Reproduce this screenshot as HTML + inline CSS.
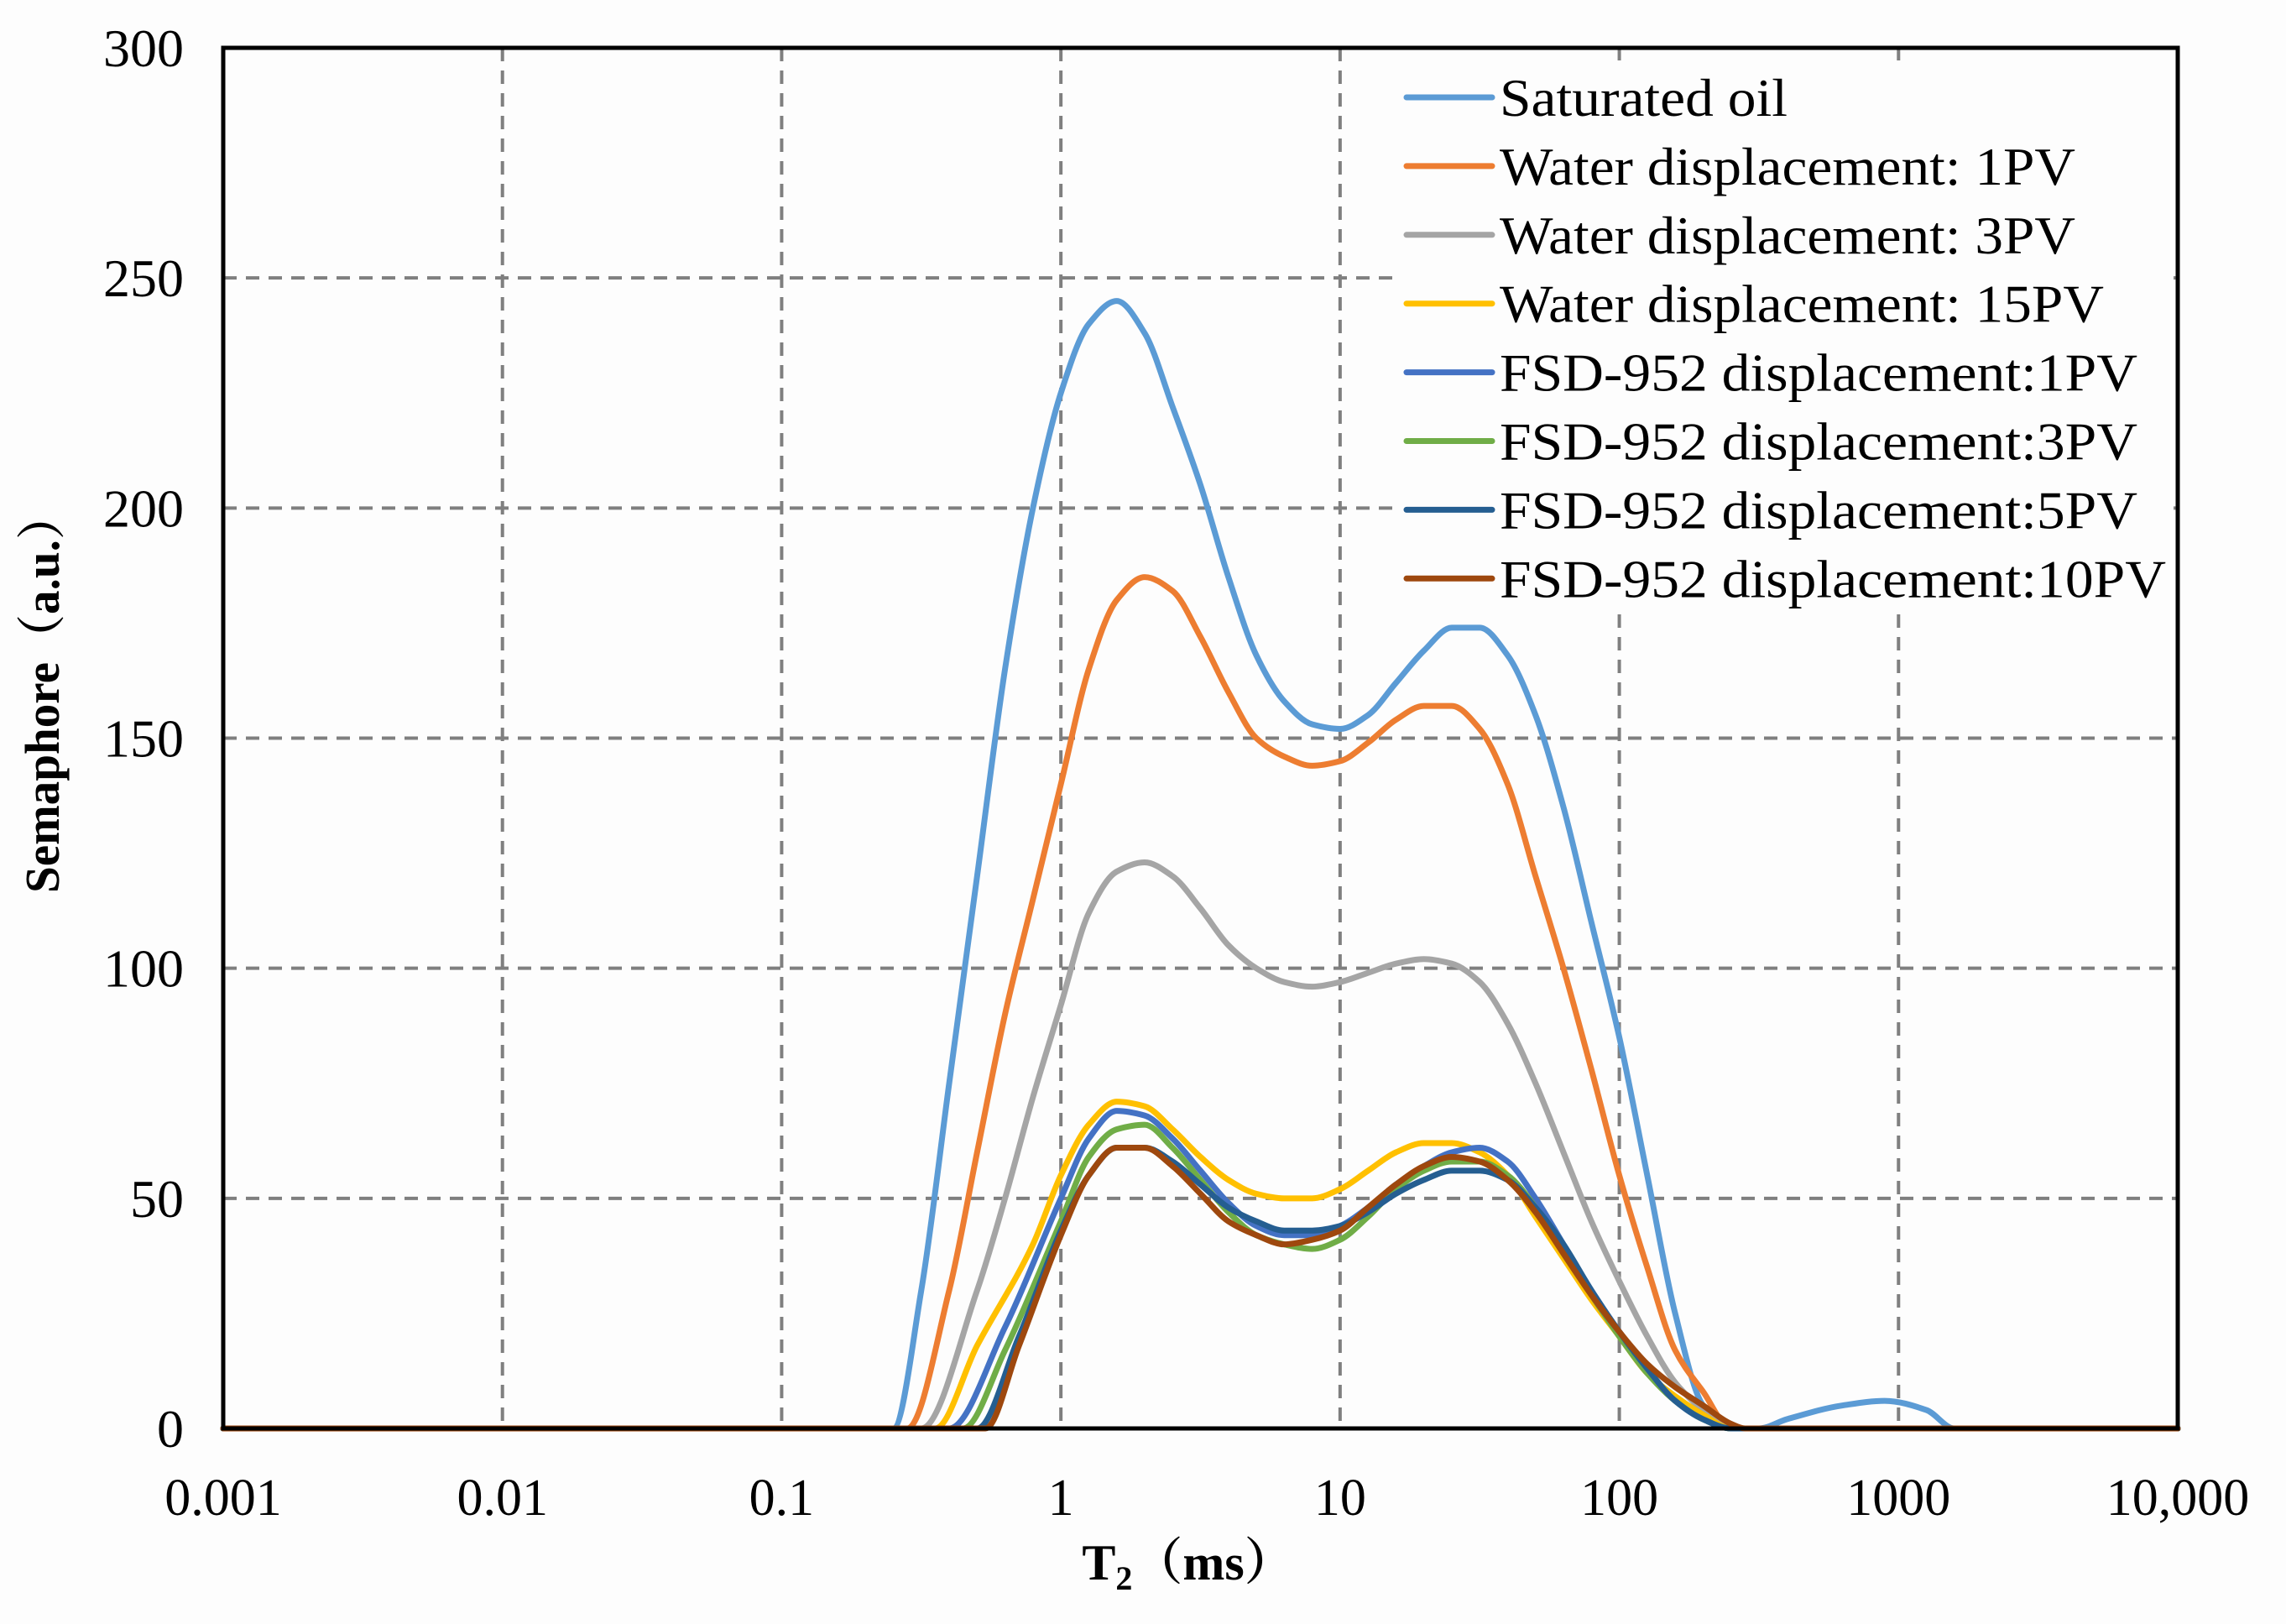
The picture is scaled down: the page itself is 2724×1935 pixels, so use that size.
<!DOCTYPE html>
<html><head><meta charset="utf-8"><style>
html,body{margin:0;padding:0;background:#fdfdfd;}
svg{display:block;font-family:"Liberation Serif","Noto Serif CJK SC",serif;}
</style></head><body>
<svg id="chart" width="2724" height="1935" viewBox="0 0 2724 1935">
<rect x="0" y="0" width="2724" height="1935" fill="#fdfdfd"/>
<g id="grid"></g>
<g id="series"></g>
<rect x="266" y="57" width="2329" height="1645" fill="none" stroke="#000" stroke-width="5"/>
<g id="legend"></g>
<g id="ticks"></g>
<text x="1416" y="1882" font-size="60" font-weight="bold" text-anchor="middle">T<tspan font-size="40" dy="12">2</tspan><tspan dy="-12">（ms）</tspan></text>
<text transform="translate(70,825) rotate(-90)" font-size="58" font-weight="bold" text-anchor="middle" textLength="478" lengthAdjust="spacingAndGlyphs">Semaphore（a.u.）</text>
</svg>
<script>
const xTickLabels = ["0.001","0.01","0.1","1","10","100","1000","10,000"];
const yTickLabels = ["0","50","100","150","200","250","300"];
const yTickValues = [0,50,100,150,200,250,300];
const seriesNames = ["Saturated oil","Water displacement: 1PV","Water displacement: 3PV","Water displacement: 15PV","FSD-952 displacement:1PV","FSD-952 displacement:3PV","FSD-952 displacement:5PV","FSD-952 displacement:10PV"];
const seriesColors = ["#5B9BD5","#ED7D31","#A5A5A5","#FFC000","#4472C4","#70AD47","#255E91","#9E480E"];
const legendTextLen = [343,686,686,720,760,760,760,794];
// log10(T2) and amplitude per series
const satLog = [-3,-0.6,-0.5,-0.4,-0.3,-0.2,-0.1,0,0.1,0.2,0.3,0.4,0.5,0.6,0.7,0.8,0.9,1.0,1.1,1.2,1.3,1.4,1.5,1.6,1.7,1.8,1.9,2.0,2.1,2.2,2.3,2.4,2.5,2.6,2.8,2.95,3.1,3.2,4];
const satVal = [0,0,30,75,120,165,200,225,240,245,238,222,205,185,168,158,153,152,155,162,169,174,174,168,155,135,110,85,55,25,5,0,0,2,5,6,4,0,0];
const w1Log = [-3,-0.55,-0.4,-0.3,-0.2,-0.1,0,0.1,0.2,0.3,0.4,0.5,0.6,0.7,0.8,0.9,1.0,1.1,1.2,1.3,1.4,1.5,1.6,1.7,1.8,1.9,2.0,2.1,2.2,2.3,2.4,4];
const w1Val = [0,0,30,60,90,115,140,165,180,185,182,172,160,150,146,144,145,149,154,157,157,152,140,120,100,78,55,35,17,8,0,0];
const w3Log = [-3,-0.5,-0.3,-0.2,-0.1,0,0.1,0.2,0.3,0.4,0.5,0.6,0.7,0.8,0.9,1.0,1.1,1.2,1.3,1.4,1.5,1.6,1.7,1.8,1.9,2.0,2.1,2.2,2.3,2.4,4];
const w3Val = [0,0,30,50,72,92,112,121,123,120,113,105,100,97,96,97,99,101,102,101,97,88,75,60,45,32,20,10,4,0,0];
const w15Log = [-3,-0.45,-0.3,-0.1,0,0.1,0.2,0.3,0.4,0.5,0.6,0.7,0.8,0.9,1.0,1.1,1.2,1.3,1.4,1.5,1.6,1.7,1.8,1.9,2.0,2.1,2.2,2.3,2.4,4];
const w15Val = [0,0,18,40,55,66,71,70,65,59,54,51,50,50,52,56,60,62,62,60,55,46,37,28,20,12,7,3,0,0];
const f1Log = [-3,-0.4,-0.2,0,0.1,0.2,0.3,0.4,0.5,0.6,0.7,0.8,0.9,1.0,1.1,1.2,1.3,1.4,1.5,1.6,1.7,1.8,1.9,2.0,2.1,2.2,2.3,2.4,4];
const f1Val = [0,0,22,50,63,69,68,63,56,49,44,42,42,44,48,53,57,60,61,58,50,40,30,21,13,6,2,0,0];
const f3Log = [-3,-0.35,-0.2,0,0.1,0.2,0.3,0.4,0.5,0.6,0.7,0.8,0.9,1.0,1.1,1.2,1.3,1.4,1.5,1.6,1.7,1.8,1.9,2.0,2.1,2.2,2.3,2.4,4];
const f3Val = [0,0,17,45,59,65,66,61,54,47,42,40,39,41,46,52,56,58,58,55,48,38,29,20,12,6,2,0,0];
const f5Log = [-3,-0.3,-0.15,0,0.1,0.2,0.3,0.4,0.5,0.6,0.7,0.8,0.9,1.0,1.1,1.2,1.3,1.4,1.5,1.6,1.7,1.8,1.9,2.0,2.1,2.2,2.3,2.4,4];
const f5Val = [0,0,20,43,55,61,61,58,53,48,45,43,43,44,47,51,54,56,56,54,48,40,30,21,13,6,2,0,0];
const f10Log = [-3,-0.27,-0.15,0,0.1,0.2,0.3,0.4,0.5,0.6,0.7,0.8,0.9,1.0,1.1,1.2,1.3,1.4,1.5,1.6,1.7,1.8,1.9,2.0,2.1,2.2,2.3,2.4,2.45,4];
const f10Val = [0,0,18,42,55,61,61,57,51,45,42,40,41,43,48,53,57,59,58,54,47,38,29,21,14,9,5,1,0,0];
const allLogs = [satLog,w1Log,w3Log,w15Log,f1Log,f3Log,f5Log,f10Log];
const allVals = [satVal,w1Val,w3Val,w15Val,f1Val,f3Val,f5Val,f10Val];

const NS="http://www.w3.org/2000/svg";
const L=266,R=2595,T=57,B=1702;
function xs(lg){return L+(lg+3)/7*(R-L);}
function ys(v){return B-v/300*(B-T);}
function mk(tag,attrs,parent){const e=document.createElementNS(NS,tag);for(const k in attrs)e.setAttribute(k,attrs[k]);parent.appendChild(e);return e;}
const grid=document.getElementById('grid'),ticks=document.getElementById('ticks');
xTickLabels.forEach((lab,i)=>{
  const x=xs(i-3);
  if(i>0&&i<7){const g=mk('line',{x1:x,x2:x,y1:T,y2:B,stroke:'#7f7f7f','stroke-width':4,'stroke-dasharray':'16,11'},grid);
  
  }
  const t=mk('text',{x:x,y:1805,'font-size':62,'text-anchor':'middle'},ticks);t.textContent=lab;
  
  
});
yTickValues.forEach((v,i)=>{
  const y=ys(v);
  if(v>0&&v<300){const g=mk('line',{x1:L,x2:R,y1:y,y2:y,stroke:'#7f7f7f','stroke-width':4,'stroke-dasharray':'16,11'},grid);
  
  }
  const t=mk('text',{x:219,y:y+22,'font-size':64,'text-anchor':'end'},ticks);t.textContent=yTickLabels[i];
  
  
});
// monotone cubic (Fritsch-Carlson)
function monotone(pts){
  const n=pts.length,dx=[],dy=[],m=[],t=[];
  for(let i=0;i<n-1;i++){dx[i]=pts[i+1][0]-pts[i][0];dy[i]=pts[i+1][1]-pts[i][1];m[i]=dy[i]/dx[i];}
  t[0]=m[0];t[n-1]=m[n-2];
  for(let i=1;i<n-1;i++){ if(m[i-1]*m[i]<=0) t[i]=0; else {const w1=2*dx[i]+dx[i-1],w2=dx[i]+2*dx[i-1];t[i]=(w1+w2)/(w1/m[i-1]+w2/m[i]);}}
  let d='M'+pts[0][0]+','+pts[0][1];
  for(let i=0;i<n-1;i++){const h=dx[i]/3;
    d+=' C'+(pts[i][0]+h)+','+(pts[i][1]+t[i]*h)+' '+(pts[i+1][0]-h)+','+(pts[i+1][1]-t[i+1]*h)+' '+pts[i+1][0]+','+pts[i+1][1];}
  return d;}
const sg=document.getElementById('series');
allLogs.forEach((lg,s)=>{
  const pts=lg.map((l,i)=>[xs(l),ys(allVals[s][i])]);
  const p=mk('path',{d:monotone(pts),fill:'none',stroke:seriesColors[s],'stroke-width':7,'stroke-linejoin':'round','stroke-linecap':'round'},sg);
  
  
});
const lg=document.getElementById('legend');
const bg=mk('rect',{x:1660,y:72,width:930,height:655,fill:'#fdfdfd'},lg);


seriesNames.forEach((n,i)=>{
  const y=116+i*81.9;
  const g=mk('g',{},lg);
  
  
  mk('line',{x1:1676,x2:1778,y1:y,y2:y,stroke:seriesColors[i],'stroke-width':7,'stroke-linecap':'round'},g);
  const t=mk('text',{x:1787,y:y+22,'font-size':64,textLength:legendTextLen[i],lengthAdjust:'spacingAndGlyphs'},g);
  t.textContent=n;
});
</script>
</body></html>
